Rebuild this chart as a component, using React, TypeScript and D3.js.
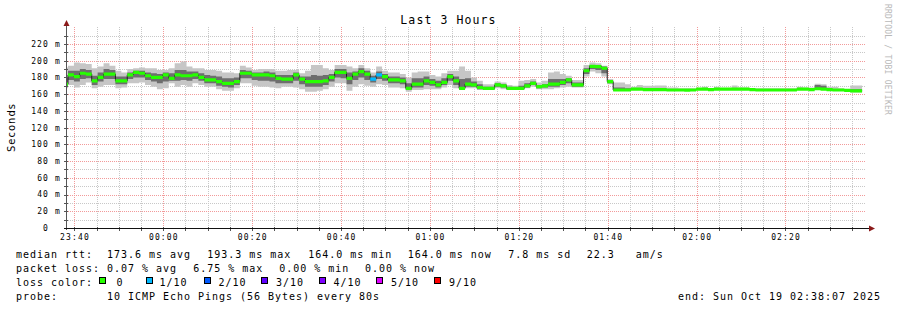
import React from "react";
import * as d3 from "d3";

// ---------- data ----------
const median = [
  172, 183, 181, 185, 184, 176, 180, 184, 184, 176,
  176, 183, 186, 185, 182, 180, 180, 183, 179, 183,
  182, 182, 183, 180, 177, 177, 175, 173, 173, 175,
  185, 185, 183, 183, 183, 182, 179, 178, 178, 183,
  178, 175, 175, 175, 176, 180, 186, 186, 179, 184,
  187, 184, 178, 183, 181, 177, 177, 176, 167, 172,
  172, 176, 174, 171, 174, 181, 176, 167, 172, 171,
  168, 167, 167, 171, 170, 167, 167, 167, 170, 173,
  169, 170, 172, 172, 174, 177, 171, 171, 188, 193.3,
  193, 191, 175, 165, 165, 165, 166, 166, 165.5, 165.5,
  165.5, 165.5, 165, 165, 165, 164.8, 165, 166, 166, 165.5,
  166, 166, 166, 166, 166, 166, 165.5, 165, 165, 165,
  165, 165, 165, 165, 166, 166, 165.5, 166.5, 166, 165.5,
  165, 165, 164.5, 164, 164,
];
const ping10 = [
  192, 194, 198, 197, 196, 191, 193, 197, 194, 188,
  186, 190, 191, 192, 191, 191, 189, 189, 191, 197,
  199, 193, 191, 191, 189, 189, 188, 186, 186, 185,
  194, 192, 189, 190, 190, 190, 188, 188, 189, 189,
  185, 188, 195, 195, 191, 189, 195, 195, 193, 191,
  195, 191, 186, 193, 188, 186, 186, 184, 180, 186,
  187, 187, 183, 181, 185, 188, 188, 193, 188, 180,
  176, 172, 172, 175, 174, 171, 170, 176, 177, 178,
  174, 176, 186, 187, 184, 182, 177, 177, 195, 198,
  197, 194, 178, 174, 174, 172, 169, 171, 170, 170,
  170.5, 170.5, 168, 168, 167, 167, 167, 167, 169, 167,
  169, 167, 167, 170.5, 168, 168, 167, 167, 167, 167,
  167, 167, 167, 167, 169, 168, 168, 172.5, 172, 169,
  169, 167, 166, 170.5, 170.5,
];
const ping8 = [
  180, 188, 188, 190, 189, 182, 186, 190, 189, 181,
  181, 186, 188, 188, 186, 185, 184, 186, 185, 189,
  189, 187, 187, 185, 183, 182, 181, 179, 179, 180,
  189, 188, 186, 186, 187, 186, 183, 183, 183, 186,
  181, 181, 183, 182, 183, 184, 190, 190, 186, 187,
  191, 188, 182, 187, 184, 181, 181, 180, 173, 179,
  179, 181, 178, 176, 179, 184, 181, 178, 179, 175,
  172, 169, 169, 173, 172, 169, 168, 170, 173, 175,
  171, 172, 178, 178, 178, 179, 174, 174, 191, 195,
  195, 193, 176, 168, 168, 167, 167, 167, 167, 166.5,
  167, 167, 166, 166, 166, 165.5, 165.5, 166.5, 167, 166,
  167, 166.5, 166.5, 167.5, 167, 167, 166, 166, 165.5, 165.5,
  165.5, 165.5, 165.5, 165.5, 167, 167, 166.5, 171, 170, 167,
  166, 165.5, 165, 166, 166,
];
const ping3 = [
  169, 177, 175, 178, 179, 171, 175, 178, 178, 172,
  172, 178, 180, 180, 177, 175, 173, 175, 176, 176,
  177, 176, 178, 176, 173, 173, 170, 169, 168, 171,
  179, 179, 177, 176, 176, 175, 173, 173, 173, 176,
  172, 169, 169, 169, 171, 175, 180, 179, 172, 177,
  180, 177, 174, 178, 176, 173, 173, 172, 165, 168,
  168, 171, 170, 168, 171, 176, 171, 166, 169, 169,
  166, 166, 166, 169, 168, 166, 166, 166, 168, 171,
  167, 168, 169, 169, 171, 173, 169, 169, 184, 190,
  189, 185, 173, 164.5, 164.5, 164.5, 165.5, 165.5, 165, 165,
  165, 165, 164.7, 164.7, 164.5, 164.3, 164.5, 165.5, 165.5, 165,
  165.5, 165.5, 165.5, 165.5, 165.5, 165.5, 165, 164.7, 164.7, 164.7,
  164.7, 164.7, 164.7, 164.7, 165.5, 165.5, 165, 166, 165.5, 165,
  164.7, 164.7, 164, 163, 163,
];
const ping1 = [
  167, 171, 168, 171, 174, 167, 169, 171, 171, 167,
  168, 173, 173, 174, 171, 169, 166, 167, 173, 169,
  171, 169, 173, 171, 169, 169, 166, 164, 164, 167,
  173, 173, 170, 169, 169, 168, 167, 169, 169, 168,
  166, 163, 163, 164, 166, 169, 173, 173, 164, 169,
  172, 170, 169, 172, 171, 168, 168, 167, 163, 165,
  165, 166, 166, 166, 168, 171, 167, 165, 167, 167,
  165, 165, 165, 167, 166, 165, 165, 165, 167, 169,
  166, 166, 166, 167, 168, 169, 168, 168, 181, 187,
  185, 181, 172, 164, 164, 164, 165, 165, 165, 165,
  165, 165, 164.5, 164.5, 164, 164, 164, 165, 165, 165,
  165, 165, 165, 165, 165, 165, 165, 164.5, 164.5, 164.5,
  164.5, 164.5, 164.5, 164.5, 165, 165, 165, 165.5, 165, 165,
  164.5, 164.5, 163, 162, 162,
];
// lost pings (out of 10) per step
const loss = [
  0, 0, 0, 0, 0, 0, 0, 0, 0, 0, 0, 0, 0, 0, 0, 0, 0, 0, 0, 0,
  0, 0, 0, 0, 0, 0, 0, 0, 0, 0, 0, 0, 0, 0, 0, 0, 0, 0, 0, 0,
  0, 0, 0, 0, 0, 0, 0, 0, 0, 0, 0, 0, 1, 1, 0, 0, 0, 0, 0, 0,
  0, 0, 0, 0, 0, 0, 0, 0, 0, 0, 0, 0, 0, 0, 0, 0, 0, 0, 0, 0,
  0, 0, 0, 0, 0, 0, 0, 0, 0, 0, 0, 0, 0, 0, 0, 0, 0, 0, 0, 0,
  0, 0, 0, 0, 0, 0, 0, 0, 0, 0, 0, 0, 0, 0, 0, 0, 0, 0, 0, 0,
  0, 0, 0, 0, 0, 0, 0, 0, 0, 0, 0, 0, 0, 0, 0,
];

const lossLevels = [0, 1, 2, 3, 4, 5, 9];
const lossLabels = ["0", "1/10", "2/10", "3/10", "4/10", "5/10", "9/10"];
const lossColors = ["#26ff00", "#00b8ff", "#0059ff", "#5e00ff", "#7e00ff", "#dd00ff", "#ff0000"];

const yTickValues = [0, 20, 40, 60, 80, 100, 120, 140, 160, 180, 200, 220];
const yTickLabels = ["0  ", "20 m", "40 m", "60 m", "80 m", "100 m", "120 m", "140 m", "160 m", "180 m", "200 m", "220 m"];
const xTickLabels = ["23:40", "00:00", "00:20", "00:40", "01:00", "01:20", "01:40", "02:00", "02:20"];

const legendRow1 = ["median rtt:  173.6 ms avg", "193.3 ms max", "164.0 ms min", "164.0 ms now", "7.8 ms sd", "22.3   am/s"];
const legendRow2 = ["packet loss: 0.07 % avg", "6.75 % max", "0.00 % min", "0.00 % now"];
const probeText = "probe:       10 ICMP Echo Pings (56 Bytes) every 80s";
const endText = "end: Sun Oct 19 02:38:07 2025";

const STEP_S = 80;
const dataStart = Date.UTC(2025, 9, 18, 23, 37, 14);
const viewStart = new Date(Date.UTC(2025, 9, 18, 23, 38, 7));
const viewEnd = new Date(Date.UTC(2025, 9, 19, 2, 38, 7));

// ---------- layout ----------
const W = 897, H = 310;
const L = 66, R = 866, T = 27, B = 228;
const MONO = "'DejaVu Sans Mono', monospace";
const pre = (s: string) => s.replace(/ /g, "\u00a0");

export default function App() {
  const x = d3.scaleUtc().domain([viewStart, viewEnd]).range([L, R]);
  const y = d3.scaleLinear().domain([0, 240.3]).range([B, T]);

  type P = { t: Date; i: number };
  const pts: P[] = median.flatMap((_, i) => [
    { t: new Date(dataStart + i * STEP_S * 1000), i },
    { t: new Date(dataStart + (i + 1) * STEP_S * 1000), i },
  ]);

  const band = (lo: number[], hi: number[]) =>
    d3.area<P>().x((d) => x(d.t)).y0((d) => y(lo[d.i])).y1((d) => y(hi[d.i]))(pts) || "";
  const medLine = d3.line<P>().x((d) => x(d.t)).y((d) => y(median[d.i]))(pts) || "";
  const medBand = (lvl: number) =>
    d3
      .area<P>()
      .defined((d) => loss[d.i] === lvl)
      .x((d) => x(d.t))
      .y0((d) => y(median[d.i]) + 1.6)
      .y1((d) => y(median[d.i]) - 1.6)(pts) || "";

  const minorY = d3.range(10, 240, 10).filter((v) => v % 20 !== 0);
  const majorY = yTickValues.filter((v) => v > 0);
  const minorX = d3.utcMinute.every(5)!.range(viewStart, viewEnd).filter((d) => d.getUTCMinutes() % 20 !== 0);
  const majorX = d3.utcMinute.every(20)!.range(viewStart, viewEnd);

  const cx = (v: number) => Math.round(v) + 0.5;

  const row1X = [16, 207.3, 308.3, 407.7, 508.3, 586.7];
  const row2X = [16, 193.3, 279.3, 365];
  const boxX = [99, 146, 203.5, 261, 318.5, 376, 434];
  const boxTextX = [116.5, 159.5, 218.5, 276, 333.5, 391, 449];

  return (
    <svg
      width={W}
      height={H}
      viewBox={`0 0 ${W} ${H}`}
      style={{ position: "absolute", left: 0, top: 0, background: "#fff" }}
    >
      <defs>
        <clipPath id="plot">
          <rect x={L} y={T - 2} width={R - L} height={B - T + 2} />
        </clipPath>
      </defs>
      <rect x={0} y={0} width={W} height={H} fill="#fff" />

      {/* grid */}
      <g shapeRendering="crispEdges" strokeDasharray="1,1">
        {minorY.map((v) => (
          <line key={"my" + v} x1={L} x2={R} y1={cx(y(v))} y2={cx(y(v))} stroke="#c8c8c8" />
        ))}
        {minorX.map((d) => (
          <line key={"mx" + +d} x1={cx(x(d))} x2={cx(x(d))} y1={T} y2={B} stroke="#c8c8c8" />
        ))}
        {majorY.map((v) => (
          <line key={"My" + v} x1={L} x2={R} y1={cx(y(v))} y2={cx(y(v))} stroke="#f29a9a" />
        ))}
        {majorX.map((d) => (
          <line key={"Mx" + +d} x1={cx(x(d))} x2={cx(x(d))} y1={T} y2={B} stroke="#f29a9a" />
        ))}
      </g>

      {/* smoke + median */}
      <g clipPath="url(#plot)">
        <path d={band(ping1, ping10)} fill="#c6c6c6" />
        <path d={band(ping3, ping8)} fill="#6e6e6e" />
        <path d={medLine} fill="none" stroke="#202020" strokeWidth={1} />
        {lossLevels.map((lvl, k) =>
          loss.includes(lvl) ? <path key={lvl} d={medBand(lvl)} fill={lossColors[k]} /> : null
        )}
      </g>

      {/* axes */}
      <g shapeRendering="crispEdges">
        {d3.range(0, 240, 10).map((v) => (
          <line key={"ty" + v} x1={L - 2} x2={L + 2} y1={cx(y(v))} y2={cx(y(v))} stroke="#555" />
        ))}
        {[...minorX, ...majorX].map((d) => (
          <line key={"tx" + +d} x1={cx(x(d))} x2={cx(x(d))} y1={B - 1} y2={B + 3} stroke="#555" />
        ))}
        <line x1={L + 0.5} x2={L + 0.5} y1={B + 2} y2={T - 4} stroke="#555" />
        <line x1={L - 2} x2={R + 4} y1={B + 0.5} y2={B + 0.5} stroke="#111" />
      </g>
      <path d={`M${L - 2.5},${T - 1}L${L + 3.5},${T - 1}L${L + 0.5},${T - 7}Z`} fill="#8b1a1a" />
      <path d={`M${R + 3},${B - 2.5}L${R + 3},${B + 3.5}L${R + 9},${B + 0.5}Z`} fill="#8b1a1a" />

      {/* y labels */}
      <g fontFamily={MONO} fontSize={8} letterSpacing={1.15} fill="#000" textAnchor="end">
        {yTickValues.map((v, i) => (
          <text key={v} x={61} y={y(v) + 2.9}>
            {pre(yTickLabels[i])}
          </text>
        ))}
      </g>
      {/* x labels */}
      <g fontFamily={MONO} fontSize={8} letterSpacing={1.15} fill="#000" textAnchor="middle">
        {majorX.map((d, i) => (
          <text key={+d} x={x(d) + 0.6} y={240}>
            {xTickLabels[i]}
          </text>
        ))}
      </g>

      {/* title */}
      <text x={448.5} y={24} fontFamily={MONO} fontSize={11.5} letterSpacing={1.1} textAnchor="middle" fill="#000">
        Last 3 Hours
      </text>
      <text
        transform="translate(15,127.5) rotate(-90)"
        fontFamily="'DejaVu Sans', sans-serif"
        fontSize={10}
        letterSpacing={1}
        textAnchor="middle"
        fill="#000"
      >
        Seconds
      </text>
      <text
        transform="translate(885,4) rotate(90)"
        fontFamily={MONO}
        fontSize={8}
        letterSpacing={0.23}
        fill="#b8b8b8"
      >
        {pre("RRDTOOL / TOBI OETIKER")}
      </text>

      {/* legend */}
      <g fontFamily={MONO} fontSize={10} letterSpacing={0.98} fill="#000">
        {legendRow1.map((s, i) => (
          <text key={"r1" + i} x={row1X[i]} y={257.5}>
            {pre(s)}
          </text>
        ))}
        {legendRow2.map((s, i) => (
          <text key={"r2" + i} x={row2X[i]} y={271.5}>
            {pre(s)}
          </text>
        ))}
        <text x={16} y={286}>
          {pre("loss color:")}
        </text>
        {lossLabels.map((s, i) => (
          <text key={"lc" + i} x={boxTextX[i]} y={286}>
            {s}
          </text>
        ))}
        <text x={16} y={300}>
          {pre(probeText)}
        </text>
        <text x={678} y={300}>
          {pre(endText)}
        </text>
      </g>
      <g shapeRendering="crispEdges">
        {lossColors.map((c, i) => (
          <rect key={c} x={boxX[i] + 0.5} y={277.5} width={6} height={6} fill={c} stroke="#000" />
        ))}
      </g>
    </svg>
  );
}
